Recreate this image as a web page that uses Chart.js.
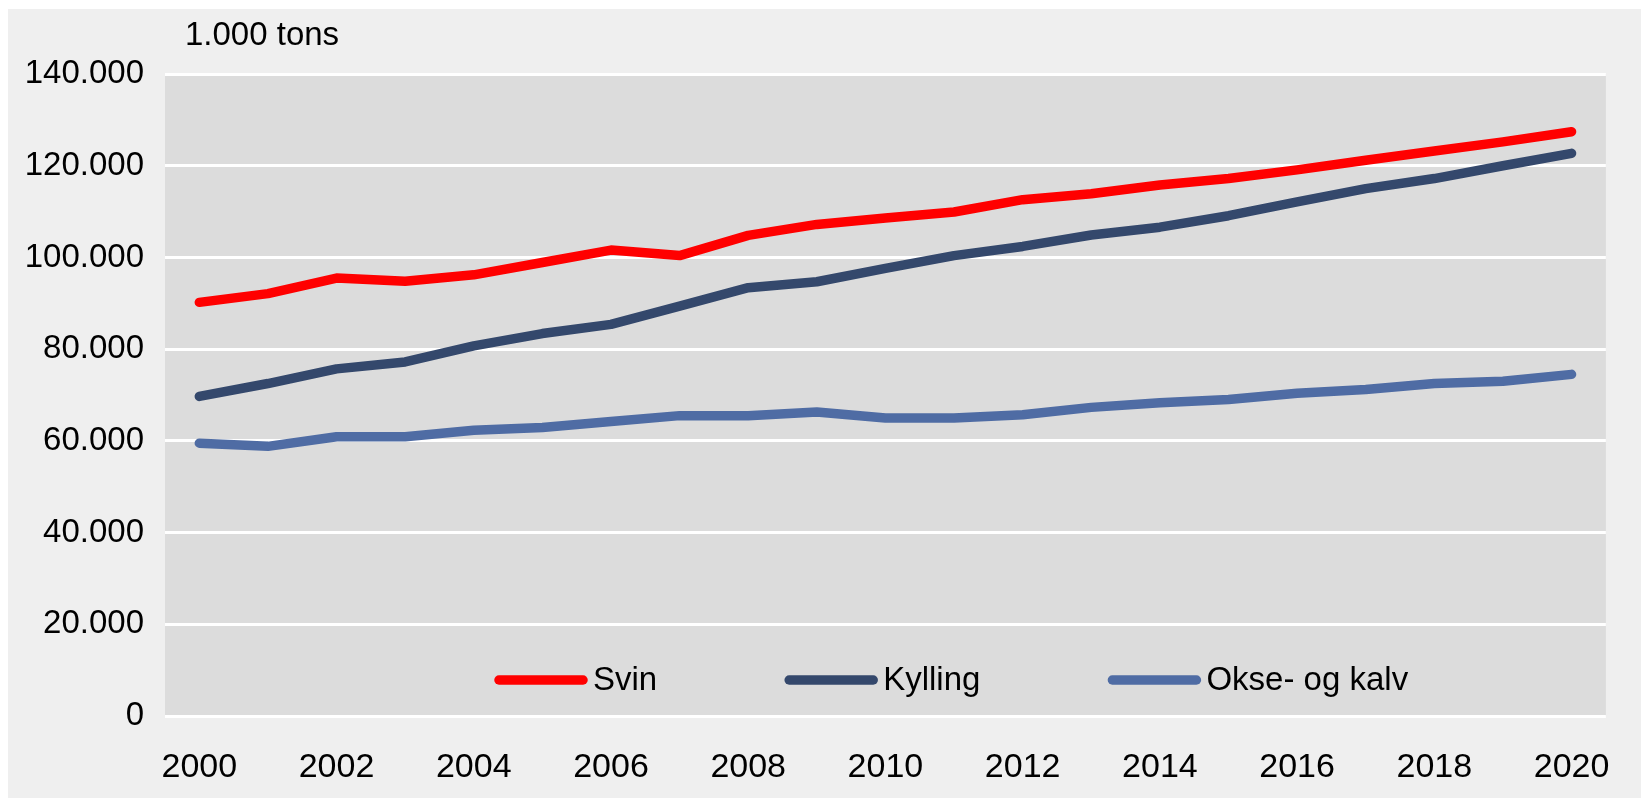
<!DOCTYPE html>
<html>
<head>
<meta charset="utf-8">
<script src="https://cdn.jsdelivr.net/npm/chart.js@4/dist/chart.umd.min.js"></script>
<style>
  body { margin: 0; background: #ffffff; }
  #wrap { position: absolute; left: 8px; top: 9px; width: 1633px; height: 789px; background: #efefef; }
</style>
</head>
<body>
<div id="wrap"><canvas id="myChart"></canvas></div>
<script>
// data (tons)
const years = ["2000","2001","2002","2003","2004","2005","2006","2007","2008","2009","2010",
  "2011","2012","2013","2014","2015","2016","2017","2018","2019","2020"];
const svin = [90200, 92100, 95500, 94800, 96200, 98900, 101600, 100400, 104800, 107200, 108600,
  109900, 112600, 113900, 115800, 117200, 119100, 121200, 123200, 125200, 127400];
const kylling = [69700, 72500, 75700, 77200, 80700, 83400, 85400, 89400, 93400, 94700, 97600,
  100400, 102400, 104900, 106600, 109100, 112100, 115000, 117200, 120000, 122700];
const okse = [59500, 58800, 60900, 60900, 62300, 62900, 64200, 65500, 65500, 66300, 65000,
  65000, 65700, 67300, 68300, 69000, 70400, 71200, 72500, 73000, 74500];
const seriesNames = ["Svin", "Kylling", "Okse- og kalv"];
const seriesColors = ["#ff0000", "#34486c", "#4f6ca4"];
const unitLabel = "1.000 tons";

const FONT = "'Liberation Sans', Arial, sans-serif";

// grey plot area + unit label
const plotBg = {
  id: "plotBg",
  beforeDraw(chart) {
    const { ctx, chartArea: a } = chart;
    ctx.save();
    ctx.fillStyle = "#dcdcdc";
    ctx.fillRect(a.left, a.top, a.right - a.left, a.bottom - a.top);
    ctx.fillStyle = "#000";
    ctx.font = "33px " + FONT;
    ctx.textBaseline = "middle";
    ctx.fillText(unitLabel, 177, 27);
    ctx.restore();
  }
};

// legend drawn inside the plot, near the bottom
const innerLegend = {
  id: "innerLegend",
  afterDatasetsDraw(chart) {
    const { ctx, chartArea: a } = chart;
    ctx.save();
    ctx.font = "33px " + FONT;
    ctx.textBaseline = "middle";
    ctx.lineCap = "round";
    let x = a.left + 330;
    const y = a.bottom - 36;
    chart.data.datasets.forEach(ds => {
      ctx.strokeStyle = ds.borderColor;
      ctx.lineWidth = 9.5;
      ctx.beginPath();
      ctx.moveTo(x + 4, y);
      ctx.lineTo(x + 88, y);
      ctx.stroke();
      ctx.fillStyle = "#000";
      ctx.fillText(ds.label, x + 98, y + 1);
      x += 98 + ctx.measureText(ds.label).width + 128;
    });
    ctx.restore();
  }
};

const dotThousands = v => String(v).replace(/\B(?=(\d{3})+(?!\d))/g, ".");

const ctx = document.getElementById("myChart").getContext("2d");
const chart = new Chart(ctx, {
  type: "line",
  data: {
    labels: years,
    datasets: [svin, kylling, okse].map((d, i) => ({
      label: seriesNames[i],
      data: d,
      borderColor: seriesColors[i],
      backgroundColor: seriesColors[i],
      borderWidth: 9.5,
      borderCapStyle: "round",
      borderJoinStyle: "round",
      pointRadius: 0,
      tension: 0
    }))
  },
  options: {
    responsive: true,
    maintainAspectRatio: false,
    animation: false,
    layout: { padding: { top: 65, right: 26, left: 0, bottom: 0 } },
    scales: {
      x: {
        offset: true,
        grid: { display: false, drawTicks: false },
        border: { display: false },
        ticks: {
          autoSkip: false,
          maxRotation: 0,
          padding: 31,
          color: "#000",
          font: { size: 34, family: FONT },
          callback: (v, i) => (i % 2 === 0 ? years[i] : "")
        },
        afterFit: s => { s.height = 82; }
      },
      y: {
        min: 0,
        max: 140000,
        grid: { color: "#ffffff", lineWidth: 3, drawTicks: false },
        border: { display: false },
        ticks: {
          stepSize: 20000,
          padding: 21,
          color: "#000",
          font: { size: 33, family: FONT },
          callback: v => dotThousands(v)
        },
        afterFit: s => { s.width = 157; }
      }
    },
    plugins: {
      legend: { display: false },
      tooltip: { enabled: false }
    }
  },
  plugins: [plotBg, innerLegend]
});
</script>
</body>
</html>
